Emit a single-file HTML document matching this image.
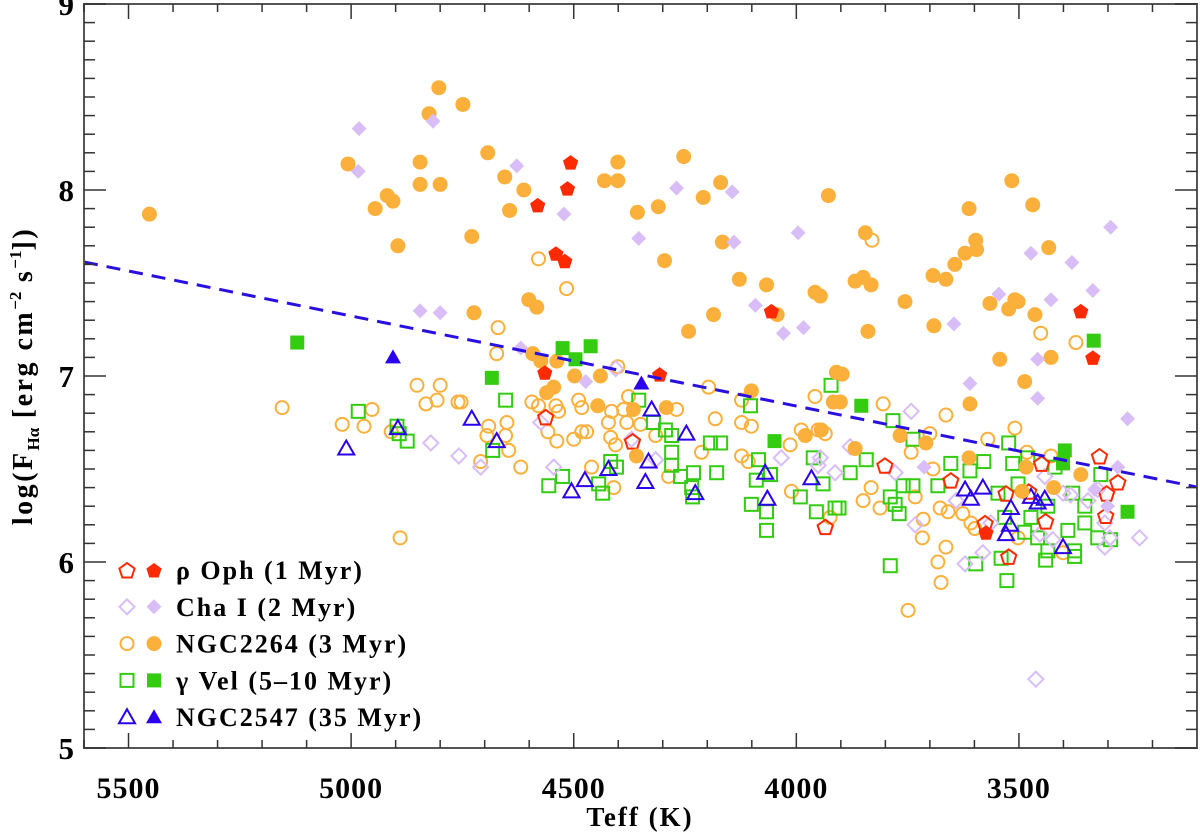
<!DOCTYPE html>
<html><head><meta charset="utf-8">
<style>
html,body{margin:0;padding:0;background:#fff;}
svg{display:block;}
text{font-family:"Liberation Serif",serif;font-weight:bold;fill:#000;}
</style></head>
<body>
<svg id="chart" width="1200" height="838" viewBox="0 0 1200 838" xmlns="http://www.w3.org/2000/svg">
<g id="marks"></g>
<g id="axes"></g>
<g id="legend"></g>
</svg>
<script>
// ---- data (Teff in K, log F in erg cm^-2 s^-1) ----
const xTicks = [5500, 5000, 4500, 4000, 3500];
const yTicks = [5, 6, 7, 8, 9];
const fitLineT = [5600, 3100];
const fitLineF = [7.613, 6.403];

const ophFilledT = [4507,4514,4581,4540,4520,4056,3361,3334,4565,4307,3574];
const ophFilledF = [8.15,8.01,7.92,7.66,7.62,7.35,7.35,7.10,7.02,7.01,6.16];
const ophOpenT = [4563,4368,3935,3801,3653,3529,3478,3449,3440,3319,3278,3303,3305,3523,3576];
const ophOpenF = [6.78,6.65,6.19,6.52,6.44,6.37,6.38,6.53,6.22,6.57,6.43,6.37,6.25,6.03,6.21];

const chaFilledT = [4982,4816,4984,4845,4800,4628,4522,4269,4144,4354,4140,3996,4092,4029,3984,4619,3294,3473,3381,3334,3428,3545,3646,3458,4473,3610,3458,3256,3713,3278,3330,3301];
const chaFilledF = [8.33,8.37,8.10,7.35,7.34,8.13,7.87,8.01,7.99,7.74,7.72,7.77,7.38,7.23,7.26,7.15,7.80,7.66,7.61,7.46,7.41,7.44,7.28,7.09,6.97,6.96,6.88,6.77,6.51,6.51,6.39,6.30];
const chaOpenT = [4821,4758,4709,4574,4545,4316,4034,3946,3913,4406,4370,3742,3879,3951,3778,3641,3563,3733,3581,3621,3442,3401,3384,3345,3323,3307,3296,3229,3453,3424,3307,3462];
const chaOpenF = [6.64,6.57,6.51,6.75,6.51,6.55,6.56,6.56,6.48,7.04,6.66,6.81,6.62,6.52,6.48,6.33,6.21,6.20,6.05,5.99,6.46,6.37,6.36,6.33,6.39,6.21,6.13,6.13,6.15,6.12,6.08,5.37];

const ngc2264FilledT = [5453,4803,4825,4749,5007,4845,4845,4800,4919,4906,4946,4895,4693,4655,4612,4644,4729,4401,4431,4401,4253,4170,4209,4310,4357,3928,4166,4296,4128,4067,3958,3946,4043,4186,4242,4724,4601,4583,3845,3612,3516,3469,3597,3595,3621,3644,3693,3664,3868,3850,3832,3756,3433,3565,3509,3502,3523,3464,3839,3691,3543,3428,4592,4574,4538,4498,4440,4561,4545,4446,4366,4292,4359,4101,3980,3917,3910,3897,3901,3944,3868,3767,3709,3610,3487,3612,3484,3422,3361,3493];
const ngc2264FilledF = [7.87,8.55,8.41,8.46,8.14,8.15,8.03,8.03,7.97,7.94,7.90,7.70,8.20,8.07,8.00,7.89,7.75,8.15,8.05,8.05,8.18,8.04,7.96,7.91,7.88,7.97,7.72,7.62,7.52,7.49,7.45,7.43,7.33,7.33,7.24,7.34,7.41,7.37,7.77,7.90,8.05,7.92,7.73,7.68,7.66,7.60,7.54,7.52,7.51,7.53,7.49,7.40,7.69,7.39,7.41,7.40,7.36,7.33,7.24,7.27,7.09,7.10,7.12,7.08,7.08,7.00,7.00,6.91,6.94,6.84,6.82,6.83,6.57,6.92,6.68,6.86,7.02,7.01,6.86,6.71,6.61,6.68,6.64,6.85,6.97,6.56,6.51,6.40,6.47,6.38];
const ngc2264OpenT = [4579,4516,4670,4673,3830,3451,3372,5155,4852,4800,4832,4807,4760,4953,5020,4971,4910,4890,4753,4650,4691,4695,4653,4646,4709,4619,4594,4579,4540,4534,4558,4538,4500,4482,4471,4489,4482,4422,4415,4388,4377,4381,4417,4406,4350,4316,4269,4197,4182,4213,4287,4410,4460,4401,4123,4123,4101,4123,4108,3958,3989,3951,4014,4011,3924,3935,3805,3664,3509,3570,3700,3742,3832,3850,3812,3733,3693,3677,3659,3626,3608,3599,3715,3717,3664,3682,3482,3428,3502,3401,3675,3749];
const ngc2264OpenF = [7.63,7.47,7.26,7.12,7.73,7.23,7.18,6.83,6.95,6.95,6.85,6.87,6.86,6.82,6.74,6.73,6.70,6.13,6.86,6.75,6.73,6.68,6.68,6.60,6.54,6.51,6.86,6.84,6.84,6.81,6.70,6.65,6.66,6.70,6.70,6.87,6.83,6.75,6.81,6.82,6.89,6.75,6.67,6.63,6.74,6.68,6.82,6.94,6.77,6.59,6.46,6.40,6.51,7.05,6.87,6.75,6.73,6.57,6.54,6.89,6.71,6.71,6.63,6.38,6.24,6.69,6.85,6.79,6.72,6.66,6.69,6.59,6.40,6.33,6.29,6.35,6.50,6.29,6.27,6.26,6.21,6.18,6.23,6.13,6.08,6.00,6.59,6.57,6.13,6.05,5.89,5.74];

const velFilledT = [5121,4525,4462,4496,4684,4049,3332,3854,3397,3401,3256];
const velFilledF = [7.18,7.15,7.16,7.09,6.99,6.65,7.19,6.84,6.60,6.53,6.27];
const velOpenT = [4984,4897,4892,4874,4653,4682,4354,4321,4294,4280,4280,4280,4417,4404,4525,4556,4444,4435,4260,4231,4235,4233,4179,4193,4170,4103,3922,4085,4090,4058,4101,4067,4067,3962,3991,3955,3940,3913,3783,3738,3843,3879,3904,3789,3778,3769,3760,3738,3682,3653,3610,3579,3523,3514,3480,3547,3502,3532,3487,3473,3435,3458,3435,3540,3390,3375,3352,3323,3294,3316,3352,3597,3789,3419,3379,3527,3440,3375];
const velOpenF = [6.81,6.73,6.69,6.65,6.87,6.60,6.87,6.75,6.71,6.68,6.59,6.52,6.54,6.51,6.46,6.41,6.42,6.37,6.46,6.48,6.40,6.35,6.48,6.64,6.64,6.84,6.95,6.55,6.44,6.47,6.31,6.27,6.17,6.56,6.35,6.27,6.42,6.29,6.76,6.66,6.55,6.48,6.29,6.35,6.31,6.26,6.41,6.41,6.41,6.53,6.49,6.54,6.64,6.53,6.56,6.37,6.42,6.24,6.16,6.24,6.30,6.13,6.06,6.02,6.17,6.06,6.21,6.13,6.12,6.47,6.30,5.99,5.98,6.51,6.37,5.90,6.01,6.03];

const n2547FilledT = [4906,4348];
const n2547FilledF = [7.10,6.96];
const n2547OpenT = [5011,4895,4729,4673,4325,4247,4332,4339,4422,4475,4505,4227,4070,4065,3966,3621,3608,3581,3518,3520,3529,3473,3458,3442,3401];
const n2547OpenF = [6.61,6.72,6.77,6.65,6.82,6.69,6.54,6.43,6.50,6.44,6.38,6.37,6.48,6.34,6.45,6.39,6.34,6.40,6.29,6.20,6.15,6.35,6.32,6.34,6.08];

const legendLabels = ["ρ Oph (1 Myr)", "Cha I (2 Myr)", "NGC2264 (3 Myr)", "γ Vel (5–10 Myr)", "NGC2547 (35 Myr)"];

// ---- scales ----
const X0 = 84, X1 = 1197, Y0 = 4, Y1 = 748;
const TMAX = 5600, TMIN = 3100, FMIN = 5, FMAX = 9;
function sx(t){ return X0 + (TMAX - t) / (TMAX - TMIN) * (X1 - X0); }
function sy(f){ return Y1 - (f - FMIN) / (FMAX - FMIN) * (Y1 - Y0); }

const NS = "http://www.w3.org/2000/svg";
function mk(tag, attrs, parent){
  const e = document.createElementNS(NS, tag);
  for (const k in attrs) e.setAttribute(k, attrs[k]);
  parent.appendChild(e);
  return e;
}
const COL = {oph:"#ff2a00", cha:"#d9bdf7", ngc:"#fbb03b", vel:"#33cc11", n2547:"#2a00ee"};

function shape(kind, cx, cy, color, filled, parent){
  const sw = filled ? 0 : 2;
  const fill = filled ? color : "none";
  let e;
  if (kind === "circle") {
    e = mk("circle", {cx:cx, cy:cy, r: filled ? 7.5 : 6.5, fill:fill, stroke:color, "stroke-width":sw}, parent);
  } else if (kind === "square") {
    const s = filled ? 14 : 13;
    e = mk("rect", {x:cx - s/2, y:cy - s/2, width:s, height:s, fill:fill, stroke:color, "stroke-width":sw}, parent);
  } else if (kind === "diamond") {
    const r = 7.5;
    e = mk("polygon", {points:`${cx},${cy-r} ${cx+r},${cy} ${cx},${cy+r} ${cx-r},${cy}`, fill:fill, stroke:color, "stroke-width":sw}, parent);
  } else if (kind === "pent") {
    const r = 8; let p = [];
    for (let i = 0; i < 5; i++) { const a = -Math.PI/2 + i*2*Math.PI/5; p.push((cx + r*Math.cos(a)).toFixed(1) + "," + (cy + r*Math.sin(a) + 1).toFixed(1)); }
    e = mk("polygon", {points:p.join(" "), fill:fill, stroke:color, "stroke-width":sw}, parent);
  } else {
    const r = 8;
    e = mk("polygon", {points:`${cx},${cy-r} ${cx+r},${cy+r*0.75} ${cx-r},${cy+r*0.75}`, fill:fill, stroke:color, "stroke-width":sw}, parent);
  }
  return e;
}

const marks = document.getElementById("marks");
function series(T, F, kind, color, filled, name){
  const g = mk("g", {}, marks);
  
  
  for (let i = 0; i < T.length; i++) {
    const e = shape(kind, sx(T[i]), sy(F[i]), color, filled, g);
    
    
  }
}
series(ngc2264OpenT, ngc2264OpenF, "circle", COL.ngc, false, "ngc2264-open");
series(velOpenT, velOpenF, "square", COL.vel, false, "gamma-vel-open");
series(chaOpenT, chaOpenF, "diamond", COL.cha, false, "cha-i-open");
series(ophOpenT, ophOpenF, "pent", COL.oph, false, "rho-oph-open");
series(n2547OpenT, n2547OpenF, "tri", COL.n2547, false, "ngc2547-open");
series(ngc2264FilledT, ngc2264FilledF, "circle", COL.ngc, true, "ngc2264-filled");
series(chaFilledT, chaFilledF, "diamond", COL.cha, true, "cha-i-filled");
series(velFilledT, velFilledF, "square", COL.vel, true, "gamma-vel-filled");
series(ophFilledT, ophFilledF, "pent", COL.oph, true, "rho-oph-filled");
series(n2547FilledT, n2547FilledF, "tri", COL.n2547, true, "ngc2547-filled");

// fit line
const fit = mk("line", {x1:sx(fitLineT[0]), y1:sy(fitLineF[0]), x2:sx(fitLineT[1]), y2:sy(fitLineF[1]), stroke:"#2a10e0", "stroke-width":3, "stroke-dasharray":"14 9"}, marks);



// axes
const axes = document.getElementById("axes");
const frame = mk("rect", {x:X0, y:Y0, width:X1-X0, height:Y1-Y0, fill:"none", stroke:"#555", "stroke-width":2}, axes);


for (let t = 3200; t <= 5600; t += 100) {
  const x = sx(t), L = (t % 500 === 0) ? 15 : 8;
  mk("line", {x1:x, y1:Y1, x2:x, y2:Y1-L, stroke:"#333", "stroke-width":1.5}, axes);
  mk("line", {x1:x, y1:Y0, x2:x, y2:Y0+L, stroke:"#333", "stroke-width":1.5}, axes);
}
for (let k = 50; k <= 90; k++) {
  const y = sy(k/10), L = (k % 10 === 0) ? 22 : 11;
  mk("line", {x1:X0, y1:y, x2:X0+L, y2:y, stroke:"#333", "stroke-width":1.5}, axes);
  mk("line", {x1:X1, y1:y, x2:X1-L, y2:y, stroke:"#333", "stroke-width":1.5}, axes);
}
xTicks.forEach(t => {
  const tx = mk("text", {x:sx(t), y:798, "font-size":30, "letter-spacing":1, "text-anchor":"middle"}, axes);
  tx.textContent = t;
  
  
});
yTicks.forEach(f => {
  const ty = mk("text", {x:74, y:sy(f)+11, "font-size":31, "text-anchor":"end"}, axes);
  ty.textContent = f;
  
  
});
const xt = mk("text", {x:640, y:826, "font-size":27, "letter-spacing":2, "text-anchor":"middle"}, axes);
xt.textContent = "Teff (K)";


const yt = mk("text", {x:0, y:0, "font-size":28, "letter-spacing":2.5, "text-anchor":"middle", transform:"translate(32,376) rotate(-90)"}, axes);
yt.innerHTML = 'log(F<tspan font-size="17" dy="7" letter-spacing="0">Hα</tspan><tspan dy="-7"> [erg cm</tspan><tspan font-size="17" dy="-11" letter-spacing="0">−2</tspan><tspan dy="11"> s</tspan><tspan font-size="17" dy="-11" letter-spacing="0">−1</tspan><tspan dy="11">])</tspan>';



// legend
const legend = document.getElementById("legend");
const legKinds = ["pent","diamond","circle","square","tri"];
const legCols = [COL.oph, COL.cha, COL.ngc, COL.vel, COL.n2547];
const legNames = ["rho-oph","cha-i","ngc2264","gamma-vel","ngc2547"];
legendLabels.forEach((lab, i) => {
  const y = 570 + i*36.8;
  const g = mk("g", {}, legend);
  
  
  shape(legKinds[i], 127, y, legCols[i], false, g);
  shape(legKinds[i], 154, y, legCols[i], true, g);
  const t = mk("text", {x:176, y:y+9, "font-size":26, "letter-spacing":2}, g);
  t.textContent = lab;
});
</script>
</body></html>
